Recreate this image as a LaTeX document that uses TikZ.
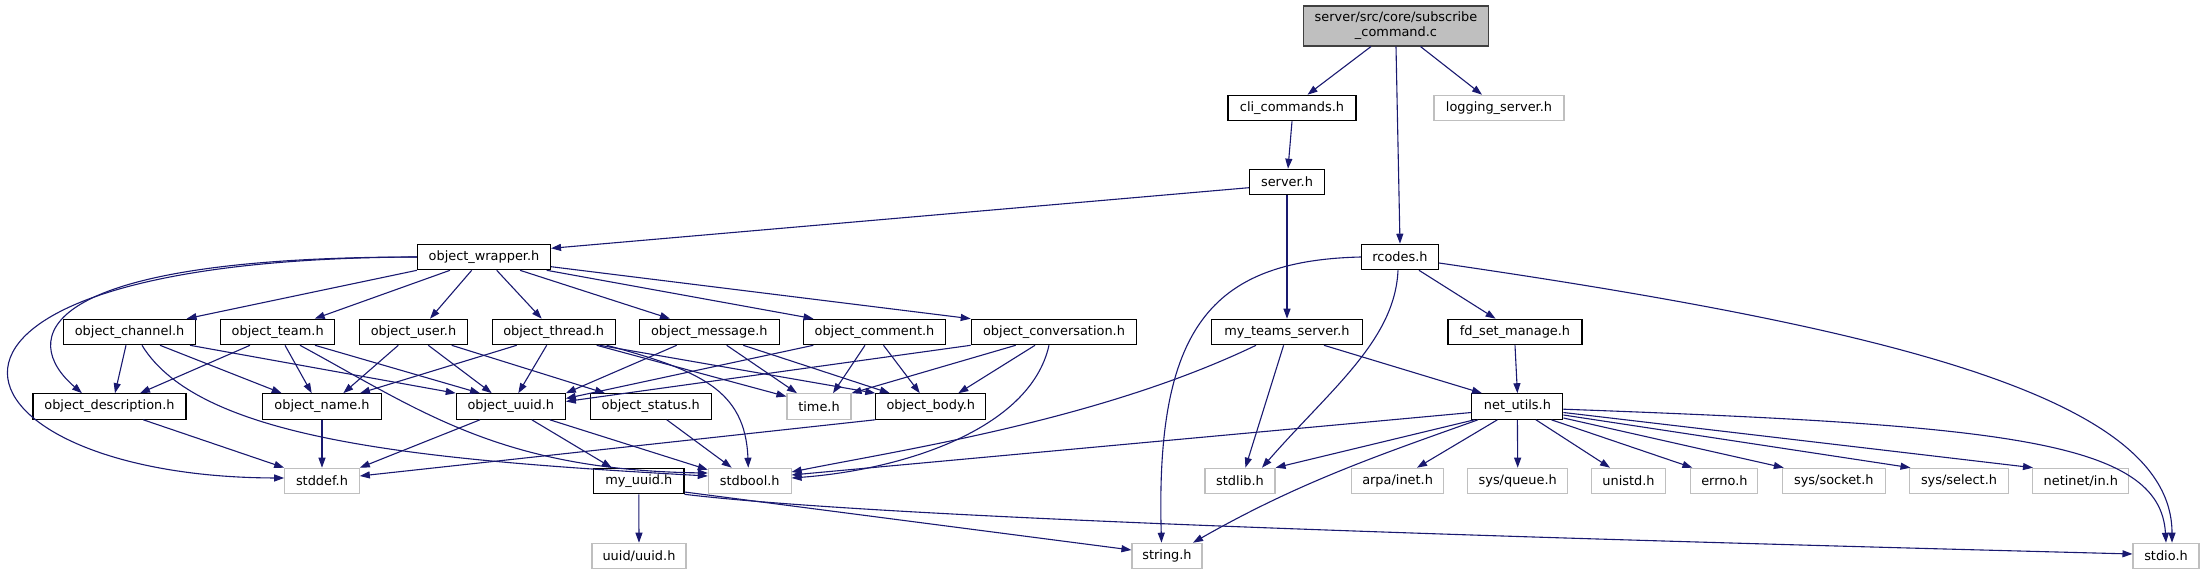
\documentclass[tikz,border=0pt]{standalone}
\usepackage{fontspec}
\setmainfont{DejaVu Sans}
\usetikzlibrary{arrows.meta}
\definecolor{edgeblue}{RGB}{25,25,112}
\definecolor{grayfill}{RGB}{191,191,191}
\definecolor{extgray}{RGB}{191,191,191}
\tikzset{
  box/.style={draw=black, line width=1.1pt, fill=white, minimum height=25.5pt, inner sep=0pt,
    font=\fontsize{12.9}{15}\selectfont, text=black},
  ext/.style={box, draw=extgray},
  root/.style={box, fill=grayfill, draw={rgb,255:red,64;green,64;blue,64}, minimum height=40pt, align=center},
  lnk/.style={draw=edgeblue, line width=1.1pt, -{Triangle[length=10pt,width=7pt]}}
}
\begin{document}
\begin{tikzpicture}[x=1pt,y=-1pt]
\useasboundingbox (0,0) rectangle (2204,575);
% row 0
\node[root, minimum width=185pt] (top) at (1396,26) {server/src/core/subscribe\\\_command.c};
% row 1
\node[box, minimum width=128pt] (cli) at (1292,108) {cli\_commands.h};
\node[ext, minimum width=130pt] (logs) at (1499,108) {logging\_server.h};
% row 2
\node[box, minimum width=75pt] (srv) at (1287,182) {server.h};
% row 3
\node[box, minimum width=133pt] (ow) at (484,257) {object\_wrapper.h};
\node[box, minimum width=77pt] (rc) at (1400,257) {rcodes.h};
% row 4
\node[box, minimum width=132pt] (ch) at (129.6,332) {object\_channel.h};
\node[box, minimum width=114pt] (tm) at (277.7,332) {object\_team.h};
\node[box, minimum width=108pt] (us) at (413.5,332) {object\_user.h};
\node[box, minimum width=123pt] (th) at (553.7,332) {object\_thread.h};
\node[box, minimum width=140pt] (ms) at (709.3,332) {object\_message.h};
\node[box, minimum width=142.5pt] (cm) at (874.5,332) {object\_comment.h};
\node[box, minimum width=165.5pt] (cv) at (1054,332) {object\_conversation.h};
\node[box, minimum width=151pt] (mts) at (1287,332) {my\_teams\_server.h};
\node[box, minimum width=134pt] (fd) at (1515,332) {fd\_set\_manage.h};
% row 5
\node[box, minimum width=153pt] (desc) at (109.5,406.5) {object\_description.h};
\node[box, minimum width=118.6pt] (nm) at (322,406.5) {object\_name.h};
\node[box, minimum width=109pt] (uu) at (510.8,406.5) {object\_uuid.h};
\node[box, minimum width=121pt] (st) at (650.8,406.5) {object\_status.h};
\node[ext, minimum width=64pt] (tim) at (819,406.5) {time.h};
\node[box, minimum width=110pt] (bd) at (930.8,406.5) {object\_body.h};
\node[box, minimum width=91pt] (nu) at (1517.4,406.5) {net\_utils.h};
% row 6
\node[ext, minimum width=74.6pt] (sdf) at (322,481) {stddef.h};
\node[box, minimum width=90.3pt] (myu) at (638.8,481) {my\_uuid.h};
\node[ext, minimum width=82.7pt] (sbl) at (749.7,481) {stdbool.h};
\node[ext, minimum width=70pt] (slb) at (1240,481) {stdlib.h};
\node[ext, minimum width=92pt] (arpa) at (1397.6,481) {arpa/inet.h};
\node[ext, minimum width=100pt] (sq) at (1517.7,481) {sys/queue.h};
\node[ext, minimum width=74pt] (uni) at (1628.5,481) {unistd.h};
\node[ext, minimum width=67pt] (err) at (1724.4,481) {errno.h};
\node[ext, minimum width=102.6pt] (sock) at (1833.8,481) {sys/socket.h};
\node[ext, minimum width=99pt] (sel) at (1959,481) {sys/select.h};
\node[ext, minimum width=96pt] (nin) at (2080.8,481) {netinet/in.h};
% row 7
\node[ext, minimum width=94pt] (uuidh) at (639,556) {uuid/uuid.h};
\node[ext, minimum width=70pt] (str) at (1167,556) {string.h};
\node[ext, minimum width=66pt] (sio) at (2166,556) {stdio.h};

% edges from root and upper files
\draw[lnk] ([xshift=-25pt]top.south) -- ([xshift=15.5pt]cli.north);
\draw[lnk] (top.south) -- (rc.north);
\draw[lnk] ([xshift=24.5pt]top.south) -- ([xshift=-17pt]logs.north);
\draw[lnk] (cli.south) -- ([xshift=1pt]srv.north);
\draw[lnk] ([yshift=-5.7pt]srv.west) -- ([yshift=8.7pt]ow.east);
\draw[lnk] (srv.south) -- (mts.north);
\draw[lnk] (rc.west) .. controls +(-151.5,3.5) and +(-6,-213) .. ([xshift=-5.5pt]str.north);
\draw[lnk] ([xshift=-2pt]rc.south) .. controls +(-3,70) and +(68,-78) .. ([xshift=22pt]slb.north);
\draw[lnk] ([xshift=19pt]rc.south) -- ([xshift=-19.4pt]fd.north);
\draw[lnk] ([yshift=-6pt]rc.east) .. controls +(461,67) and +(0,-143) .. ([xshift=6pt]sio.north);
\draw[lnk] ([xshift=-31pt]mts.south) .. controls +(-156,75) and +(109,-22) .. ([yshift=9pt]sbl.east);
\draw[lnk] ([xshift=-3.4pt]mts.south) -- ([xshift=5.4pt]slb.north);
\draw[lnk] ([xshift=37pt]mts.south) -- ([xshift=-35.4pt]nu.north);
\draw[lnk] (fd.south) -- (nu.north);
% net_utils
\draw[lnk] ([yshift=-6pt]nu.west) -- ([yshift=6pt]sbl.east);
\draw[lnk] ([xshift=-43pt]nu.south) -- (slb.north east);
\draw[lnk] ([xshift=-39.4pt]nu.south) .. controls +(-98,35) and +(107,-61) .. ([xshift=26pt]str.north);
\draw[lnk] ([xshift=-20pt]nu.south) -- ([xshift=19.4pt]arpa.north);
\draw[lnk] (nu.south) -- (sq.north);
\draw[lnk] ([xshift=18.5pt]nu.south) -- ([xshift=-18.5pt]uni.north);
\draw[lnk] ([xshift=34pt]nu.south) -- ([xshift=-32pt]err.north);
\draw[lnk] ([yshift=-11.5pt]nu.east) -- ([xshift=-50pt]sock.north);
\draw[lnk] ([yshift=-8.5pt]nu.east) -- ([xshift=-48.5pt]sel.north);
\draw[lnk] ([yshift=-6pt]nu.east) -- ([xshift=-47.8pt]nin.north);
\draw[lnk] ([yshift=-2.7pt]nu.east) .. controls +(437,16) and +(-6,-103) .. (sio.north);
% my_uuid
\draw[lnk] (myu.south) -- (uuidh.north);
\draw[lnk] ([yshift=-11pt]myu.east) -- ([yshift=6pt]str.west);
\draw[lnk] (myu.south east) .. controls +(216,26) and +(-533,-14) .. ([yshift=2pt]sio.west);
% object_wrapper
\draw[lnk] (ow.south west) -- ([xshift=57pt]ch.north);
\draw[lnk] ([xshift=-34pt]ow.south) -- ([xshift=37pt]tm.north);
\draw[lnk] ([xshift=-12.3pt]ow.south) -- ([xshift=16.5pt]us.north);
\draw[lnk] ([xshift=12.7pt]ow.south) -- ([xshift=-12pt]th.north);
\draw[lnk] ([xshift=36pt]ow.south) -- ([xshift=-39.3pt]ms.north);
\draw[lnk] ([xshift=62.7pt]ow.south) -- ([xshift=-61pt]cm.north);
\draw[lnk] ([yshift=-9.7pt]ow.east) -- (cv.north west);
\draw[lnk] (ow.west) .. controls +(-387,0) and +(-62,-53) .. ([xshift=-27.5pt]desc.north);
\draw[lnk] (ow.west) .. controls +(-567,2) and +(-344,-1) .. ([yshift=3pt]sdf.west);
% object_channel
\draw[lnk] ([xshift=-3.6pt]ch.south) -- ([xshift=5.5pt]desc.north);
\draw[lnk] ([xshift=30.4pt]ch.south) -- ([xshift=-40.3pt]nm.north);
\draw[lnk] ([xshift=60.4pt]ch.south) -- (uu.north west);
\draw[lnk] ([xshift=12.4pt]ch.south) .. controls +(58,95) and +(-288,-16) .. ([yshift=5pt]sbl.west);
% object_team
\draw[lnk] ([xshift=-27.7pt]tm.south) -- ([xshift=30.5pt]desc.north);
\draw[lnk] ([xshift=7.3pt]tm.south) -- ([xshift=-10.3pt]nm.north);
\draw[lnk] ([xshift=37.3pt]tm.south) -- ([xshift=-30.8pt]uu.north);
\draw[lnk] ([xshift=22.3pt]tm.south) .. controls +(120,65) and +(-208,-3) .. ([yshift=8pt]sbl.west);
% object_user
\draw[lnk] ([xshift=-15.2pt]us.south) -- ([xshift=21.3pt]nm.north);
\draw[lnk] ([xshift=14.8pt]us.south) -- ([xshift=-19pt]uu.north);
\draw[lnk] ([xshift=38.2pt]us.south) -- ([xshift=-45.8pt]st.north);
% object_thread
\draw[lnk] ([xshift=-37pt]th.south) -- ([xshift=38pt]nm.north);
\draw[lnk] ([xshift=-7pt]th.south) -- ([xshift=7.5pt]uu.north);
\draw[lnk] ([xshift=43pt]th.south) -- ([yshift=10pt]tim.west);
\draw[lnk] ([xshift=46pt]th.south) -- (bd.north west);
\draw[lnk] ([xshift=53pt]th.south) .. controls +(93,25) and +(-3,-78) .. ([xshift=-1.4pt]sbl.north);
% object_message
\draw[lnk] ([xshift=-32.6pt]ms.south) -- (uu.north east);
\draw[lnk] ([xshift=17.4pt]ms.south) -- ([xshift=-22pt]tim.north);
\draw[lnk] ([xshift=34pt]ms.south) -- ([xshift=-41pt]bd.north);
% object_comment
\draw[lnk] ([xshift=-61.2pt]cm.south) -- ([yshift=8pt]uu.east);
\draw[lnk] ([xshift=-9.5pt]cm.south) -- ([xshift=14pt]tim.north);
\draw[lnk] ([xshift=9pt]cm.south) -- ([xshift=-11pt]bd.north);
% object_conversation
\draw[lnk] (cv.south west) -- ([yshift=5pt]uu.east);
\draw[lnk] ([xshift=-38.3pt]cv.south) -- (tim.north east);
\draw[lnk] ([xshift=-19pt]cv.south) -- ([xshift=27.5pt]bd.north);
\draw[lnk] ([xshift=-5pt]cv.south) .. controls +(-19,85) and +(109,-8) .. ([yshift=3pt]sbl.east);
% row 5 sources
\draw[lnk] ([xshift=33.8pt]desc.south) -- (sdf.north west);
\draw[lnk] (nm.south) -- (sdf.north);
\draw[lnk] ([xshift=-30.8pt]uu.south) -- (sdf.north east);
\draw[lnk] ([xshift=21pt]uu.south) -- ([xshift=-27pt]myu.north);
\draw[lnk] ([xshift=39pt]uu.south) -- ([yshift=-2pt]sbl.north west);
\draw[lnk] ([xshift=16pt]st.south) -- ([xshift=-18pt]sbl.north);
\draw[lnk] (bd.south west) -- ([yshift=5pt]sdf.east);
\end{tikzpicture}
\end{document}
